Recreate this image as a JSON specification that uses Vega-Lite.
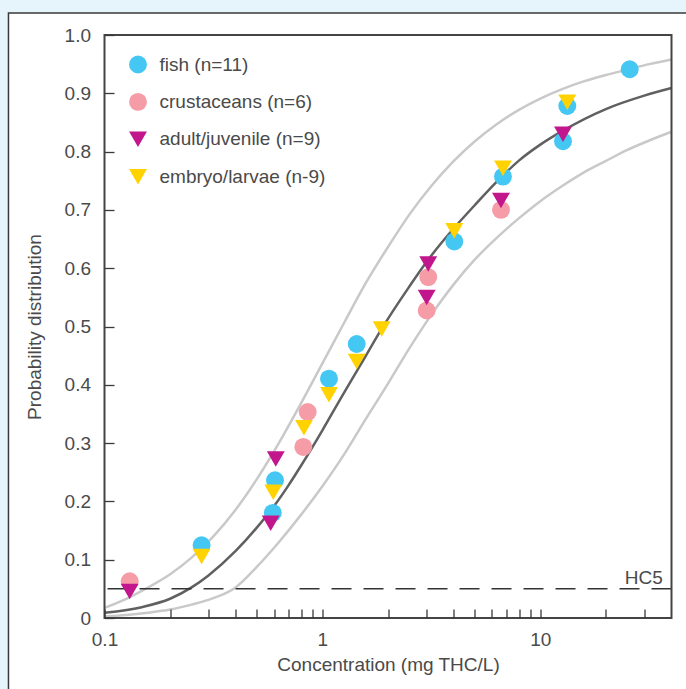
{
  "$schema": "https://vega.github.io/schema/vega-lite/v6.json",
  "width": 567,
  "height": 583,
  "autosize": {"type": "none"},
  "padding": {"left": 104.5, "top": 35, "right": 14.5, "bottom": 71},
  "background": "#e6f4fb",
  "config": {
    "view": {"stroke": null},
    "font": "Liberation Sans",
    "legend": {"zindex": 1}
  },
  "datasets": {
    "pts": [
      {"group": "fish (n=11)", "conc": 0.279, "prob": 0.1248},
      {"group": "fish (n=11)", "conc": 0.592, "prob": 0.1803},
      {"group": "fish (n=11)", "conc": 0.606, "prob": 0.2362},
      {"group": "fish (n=11)", "conc": 1.072, "prob": 0.4105},
      {"group": "fish (n=11)", "conc": 1.437, "prob": 0.470},
      {"group": "fish (n=11)", "conc": 4.03, "prob": 0.6458},
      {"group": "fish (n=11)", "conc": 6.74, "prob": 0.7571},
      {"group": "fish (n=11)", "conc": 12.71, "prob": 0.8178},
      {"group": "fish (n=11)", "conc": 13.30, "prob": 0.8783},
      {"group": "fish (n=11)", "conc": 25.72, "prob": 0.9412},
      {"group": "crustaceans (n=6)", "conc": 0.1305, "prob": 0.0631},
      {"group": "crustaceans (n=6)", "conc": 0.856, "prob": 0.3534},
      {"group": "crustaceans (n=6)", "conc": 0.817, "prob": 0.2934},
      {"group": "crustaceans (n=6)", "conc": 3.06, "prob": 0.5847},
      {"group": "crustaceans (n=6)", "conc": 3.01, "prob": 0.5275},
      {"group": "crustaceans (n=6)", "conc": 6.60, "prob": 0.7001},
      {"group": "adult/juvenile (n=9)", "conc": 0.1305, "prob": 0.0454},
      {"group": "adult/juvenile (n=9)", "conc": 0.579, "prob": 0.1625},
      {"group": "adult/juvenile (n=9)", "conc": 0.611, "prob": 0.2728},
      {"group": "adult/juvenile (n=9)", "conc": 3.06, "prob": 0.607},
      {"group": "adult/juvenile (n=9)", "conc": 3.01, "prob": 0.5498},
      {"group": "adult/juvenile (n=9)", "conc": 6.60, "prob": 0.716},
      {"group": "adult/juvenile (n=9)", "conc": 12.71, "prob": 0.8298},
      {"group": "embryo/larvae (n-9)", "conc": 0.279, "prob": 0.1054},
      {"group": "embryo/larvae (n-9)", "conc": 0.595, "prob": 0.2156},
      {"group": "embryo/larvae (n-9)", "conc": 0.823, "prob": 0.3265},
      {"group": "embryo/larvae (n-9)", "conc": 1.072, "prob": 0.383},
      {"group": "embryo/larvae (n-9)", "conc": 1.437, "prob": 0.4401},
      {"group": "embryo/larvae (n-9)", "conc": 1.871, "prob": 0.4956},
      {"group": "embryo/larvae (n-9)", "conc": 4.03, "prob": 0.6641},
      {"group": "embryo/larvae (n-9)", "conc": 6.74, "prob": 0.7716},
      {"group": "embryo/larvae (n-9)", "conc": 13.30, "prob": 0.8847}
    ],
    "bounds": [
      {"curve": "upper", "conc": 0.1, "prob": 0.0175},
      {"curve": "upper", "conc": 0.126, "prob": 0.033},
      {"curve": "upper", "conc": 0.158, "prob": 0.052},
      {"curve": "upper", "conc": 0.2, "prob": 0.075},
      {"curve": "upper", "conc": 0.251, "prob": 0.1035},
      {"curve": "upper", "conc": 0.316, "prob": 0.140},
      {"curve": "upper", "conc": 0.398, "prob": 0.185},
      {"curve": "upper", "conc": 0.501, "prob": 0.2387},
      {"curve": "upper", "conc": 0.631, "prob": 0.300},
      {"curve": "upper", "conc": 0.794, "prob": 0.3668},
      {"curve": "upper", "conc": 1, "prob": 0.4368},
      {"curve": "upper", "conc": 1.26, "prob": 0.5069},
      {"curve": "upper", "conc": 1.58, "prob": 0.5742},
      {"curve": "upper", "conc": 2, "prob": 0.6364},
      {"curve": "upper", "conc": 2.51, "prob": 0.6923},
      {"curve": "upper", "conc": 3.16, "prob": 0.741},
      {"curve": "upper", "conc": 3.98, "prob": 0.7828},
      {"curve": "upper", "conc": 5.01, "prob": 0.8178},
      {"curve": "upper", "conc": 6.31, "prob": 0.847},
      {"curve": "upper", "conc": 7.94, "prob": 0.8712},
      {"curve": "upper", "conc": 10, "prob": 0.891},
      {"curve": "upper", "conc": 12.6, "prob": 0.9072},
      {"curve": "upper", "conc": 15.8, "prob": 0.9204},
      {"curve": "upper", "conc": 20, "prob": 0.9313},
      {"curve": "upper", "conc": 25.1, "prob": 0.9405},
      {"curve": "upper", "conc": 31.6, "prob": 0.950},
      {"curve": "upper", "conc": 40, "prob": 0.958},
      {"curve": "lower", "conc": 0.1, "prob": 0.0026},
      {"curve": "lower", "conc": 0.126, "prob": 0.005},
      {"curve": "lower", "conc": 0.158, "prob": 0.009},
      {"curve": "lower", "conc": 0.2, "prob": 0.0145},
      {"curve": "lower", "conc": 0.251, "prob": 0.023},
      {"curve": "lower", "conc": 0.316, "prob": 0.034},
      {"curve": "lower", "conc": 0.398, "prob": 0.052},
      {"curve": "lower", "conc": 0.501, "prob": 0.088},
      {"curve": "lower", "conc": 0.631, "prob": 0.13},
      {"curve": "lower", "conc": 0.794, "prob": 0.176},
      {"curve": "lower", "conc": 1, "prob": 0.226},
      {"curve": "lower", "conc": 1.26, "prob": 0.281},
      {"curve": "lower", "conc": 1.58, "prob": 0.341},
      {"curve": "lower", "conc": 2, "prob": 0.402},
      {"curve": "lower", "conc": 2.51, "prob": 0.463},
      {"curve": "lower", "conc": 3.16, "prob": 0.52},
      {"curve": "lower", "conc": 3.98, "prob": 0.571},
      {"curve": "lower", "conc": 5.01, "prob": 0.615},
      {"curve": "lower", "conc": 6.31, "prob": 0.652},
      {"curve": "lower", "conc": 7.94, "prob": 0.685},
      {"curve": "lower", "conc": 10, "prob": 0.715},
      {"curve": "lower", "conc": 12.6, "prob": 0.741},
      {"curve": "lower", "conc": 15.8, "prob": 0.764},
      {"curve": "lower", "conc": 20, "prob": 0.784},
      {"curve": "lower", "conc": 25.1, "prob": 0.803},
      {"curve": "lower", "conc": 31.6, "prob": 0.819},
      {"curve": "lower", "conc": 40, "prob": 0.834}
    ],
    "center": [
      {"conc": 0.1, "prob": 0.009},
      {"conc": 0.15, "prob": 0.019},
      {"conc": 0.2, "prob": 0.033},
      {"conc": 0.25, "prob": 0.052},
      {"conc": 0.3, "prob": 0.073},
      {"conc": 0.4, "prob": 0.115},
      {"conc": 0.5, "prob": 0.155},
      {"conc": 0.6, "prob": 0.192},
      {"conc": 0.7, "prob": 0.228},
      {"conc": 0.8, "prob": 0.262},
      {"conc": 1.0, "prob": 0.322},
      {"conc": 1.25, "prob": 0.385},
      {"conc": 1.5, "prob": 0.435},
      {"conc": 1.87, "prob": 0.496},
      {"conc": 2.5, "prob": 0.568},
      {"conc": 3.05, "prob": 0.614},
      {"conc": 4.0, "prob": 0.668},
      {"conc": 5.0, "prob": 0.708},
      {"conc": 6.3, "prob": 0.748},
      {"conc": 8.0, "prob": 0.785},
      {"conc": 10, "prob": 0.812},
      {"conc": 12.7, "prob": 0.836},
      {"conc": 20, "prob": 0.873},
      {"conc": 30, "prob": 0.896},
      {"conc": 40, "prob": 0.909}
    ]
  },
  "layer": [
    {
      "data": {"values": [{"panel": "frame"}]},
      "mark": {"type": "rect", "fill": "#ffffff", "stroke": "#3a3a3a", "strokeWidth": 1.5},
      "encoding": {
        "x": {"datum": 0.03625, "type": "quantitative", "scale": {"type": "log", "domain": [0.1, 40], "nice": false}},
        "x2": {"datum": 1000},
        "y": {"datum": 1.0377, "type": "quantitative", "scale": {"domain": [0, 1], "nice": false, "zero": false}},
        "y2": {"datum": -0.5}
      }
    },
    {
      "data": {"name": "bounds"},
      "mark": {"type": "line", "color": "#c9c9c9", "strokeWidth": 2.5, "interpolate": "monotone"},
      "encoding": {
        "x": {"field": "conc", "type": "quantitative", "scale": {"type": "log", "domain": [0.1, 40], "nice": false}},
        "y": {"field": "prob", "type": "quantitative", "scale": {"domain": [0, 1], "nice": false, "zero": false}},
        "detail": {"field": "curve"}
      }
    },
    {
      "data": {"name": "center"},
      "mark": {"type": "line", "color": "#606062", "strokeWidth": 2.5, "interpolate": "monotone"},
      "encoding": {
        "x": {"field": "conc", "type": "quantitative", "scale": {"type": "log", "domain": [0.1, 40], "nice": false}},
        "y": {"field": "prob", "type": "quantitative", "scale": {"domain": [0, 1], "nice": false, "zero": false}}
      }
    },
    {
      "data": {"values": [{"hc5": 0.05}]},
      "mark": {"type": "rule", "color": "#333333", "strokeWidth": 1.5, "strokeDash": [20, 12]},
      "encoding": {
        "y": {"field": "hc5", "type": "quantitative", "scale": {"domain": [0, 1], "nice": false, "zero": false}}
      }
    },
    {
      "data": {"values": [{"label": "HC5"}]},
      "mark": {"type": "text", "align": "right", "baseline": "alphabetic", "dy": -4.5, "fontSize": 19, "color": "#4a4a4a", "font": "Liberation Sans"},
      "encoding": {
        "x": {"datum": 36.45, "type": "quantitative", "scale": {"type": "log", "domain": [0.1, 40], "nice": false}},
        "y": {"datum": 0.05, "type": "quantitative", "scale": {"domain": [0, 1], "nice": false, "zero": false}},
        "text": {"field": "label"}
      }
    },
    {
      "data": {"name": "pts"},
      "mark": {"type": "point", "filled": true, "size": 320, "opacity": 1, "strokeWidth": 0},
      "encoding": {
        "x": {
          "field": "conc", "type": "quantitative",
          "scale": {"type": "log", "domain": [0.1, 40], "nice": false},
          "axis": {
            "zindex": 2,
            "title": "Concentration (mg THC/L)",
            "values": [0.1, 0.2, 0.3, 0.4, 0.5, 0.6, 0.7, 0.8, 0.9, 1, 2, 3, 4, 5, 6, 7, 8, 9, 10, 20, 30],
            "labelExpr": "datum.value == 0.1 ? '0.1' : datum.value == 1 ? '1' : datum.value == 10 ? '10' : ''",
            "domain": false, "grid": false,
            "tickSize": -9, "tickColor": "#3a3a3a", "tickWidth": 1.3,
            "labelPadding": 21, "labelFlush": false, "labelOverlap": false,
            "labelFontSize": 19, "labelColor": "#4a4a4a", "labelFont": "Liberation Sans",
            "titleFontSize": 19, "titleFontWeight": "normal", "titleColor": "#4a4a4a", "titleFont": "Liberation Sans", "titlePadding": 6
          }
        },
        "y": {
          "field": "prob", "type": "quantitative",
          "scale": {"domain": [0, 1], "nice": false, "zero": false},
          "axis": {
            "zindex": 2,
            "title": "Probability distribution",
            "values": [0, 0.1, 0.2, 0.3, 0.4, 0.5, 0.6, 0.7, 0.8, 0.9, 1],
            "labelExpr": "datum.value == 0 ? '0' : format(datum.value, '.1f')",
            "domain": false, "grid": false,
            "tickSize": -9.5, "tickColor": "#3a3a3a", "tickWidth": 1.3,
            "labelPadding": 23.5, "labelFlush": false, "labelOverlap": false,
            "labelFontSize": 19, "labelColor": "#4a4a4a", "labelFont": "Liberation Sans",
            "titleFontSize": 19, "titleFontWeight": "normal", "titleColor": "#4a4a4a", "titleFont": "Liberation Sans", "titlePadding": 20
          }
        },
        "color": {
          "field": "group", "type": "nominal",
          "scale": {
            "domain": ["fish (n=11)", "crustaceans (n=6)", "adult/juvenile (n=9)", "embryo/larvae (n-9)"],
            "range": ["#45c7f3", "#f59ca7", "#c1168c", "#ffd200"]
          },
          "legend": {
            "title": null, "orient": "none", "legendX": 24, "legendY": 20,
            "symbolSize": 320, "symbolStrokeWidth": 0, "labelFontSize": 19, "labelColor": "#4a4a4a", "labelFont": "Liberation Sans",
            "labelOffset": 12, "rowPadding": 17.4, "padding": 0, "labelLimit": 400
          }
        },
        "shape": {
          "field": "group", "type": "nominal",
          "scale": {
            "domain": ["fish (n=11)", "crustaceans (n=6)", "adult/juvenile (n=9)", "embryo/larvae (n-9)"],
            "range": ["circle", "circle", "triangle-down", "triangle-down"]
          },
          "legend": {
            "title": null, "orient": "none", "legendX": 24, "legendY": 20,
            "symbolSize": 320, "symbolStrokeWidth": 0, "labelFontSize": 19, "labelColor": "#4a4a4a", "labelFont": "Liberation Sans",
            "labelOffset": 12, "rowPadding": 17.4, "padding": 0, "labelLimit": 400
          }
        }
      }
    },
    {
      "data": {"values": [{"panel": "plot"}]},
      "mark": {"type": "rect", "fill": null, "stroke": "#444444", "strokeWidth": 2},
      "encoding": {
        "x": {"datum": 0.1, "type": "quantitative", "scale": {"type": "log", "domain": [0.1, 40], "nice": false}},
        "x2": {"datum": 40},
        "y": {"datum": 0, "type": "quantitative", "scale": {"domain": [0, 1], "nice": false, "zero": false}},
        "y2": {"datum": 1}
      }
    }
  ]
}
